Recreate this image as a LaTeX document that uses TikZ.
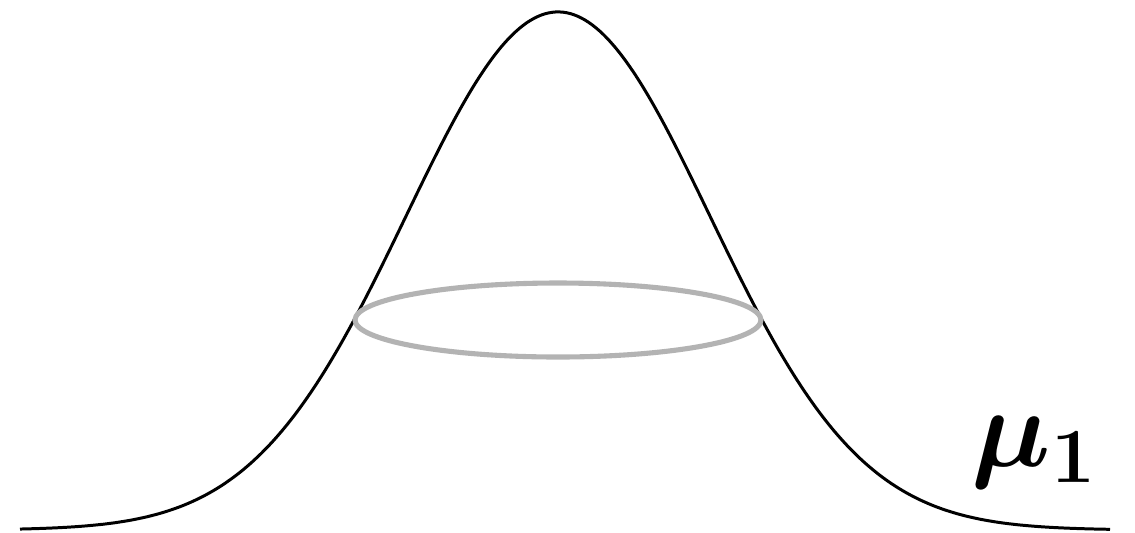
\documentclass[tikz,border=0pt]{standalone}
\usepackage{amsmath,bm}
\definecolor{ringgray}{HTML}{B3B3B3}
\tikzset{
  curve/.style={line width=1.7pt, black},
  ring/.style={line width=2.9pt, ringgray},
  lbl/.style={font=\LARGE, inner sep=0pt, scale=3.7}
}
\begin{document}
\begin{tikzpicture}[x=0.02cm,y=-0.02cm]
\useasboundingbox (0,0) rectangle (1135,532);
\draw[curve] plot[domain=20:1110, samples=300, smooth]
  ({\x},{530-518*exp(-((\x-558)/100)^2/4.6094)});
\draw[ring] (558,320) ellipse [x radius=203, y radius=37];
\node[lbl] (mu) at (1035,452) {$\bm{\mu}_{\bm{1}}$};
\end{tikzpicture}
\end{document}
